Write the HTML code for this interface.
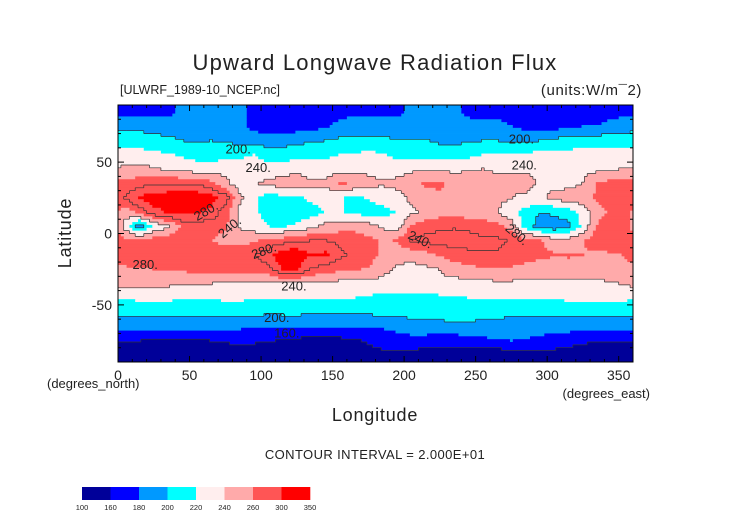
<!DOCTYPE html>
<html><head><meta charset="utf-8">
<style>
body{margin:0;background:#fff;width:752px;height:532px;overflow:hidden;font-family:"Liberation Sans",sans-serif;}
svg{display:block}
text{font-family:"Liberation Sans",sans-serif;fill:#222}
</style></head>
<body>
<svg id="chart" width="752" height="532" viewBox="0 0 752 532">
<text x="375" y="70" text-anchor="middle" font-size="22" letter-spacing="1.2">Upward Longwave Radiation Flux</text>
<text x="120" y="94" font-size="12.5">[ULWRF_1989-10_NCEP.nc]</text>
<text x="642" y="95" text-anchor="end" font-size="15" letter-spacing="0.6">(units:W/m¯2)</text>
<g id="field"></g>
<g id="clines"></g>
<g id="labels"></g>
<rect x="118" y="105" width="515" height="257" fill="none" stroke="#000" stroke-width="1"/>
<g id="axes"></g>
<text x="47" y="388" font-size="13">(degrees_north)</text>
<text x="650" y="398" text-anchor="end" font-size="13">(degrees_east)</text>
<text x="375" y="421" text-anchor="middle" font-size="18" letter-spacing="0.8">Longitude</text>
<text x="0" y="0" transform="translate(71,233) rotate(-90)" text-anchor="middle" font-size="18" letter-spacing="0.8">Latitude</text>
<text x="375" y="459" text-anchor="middle" font-size="13" letter-spacing="0.4">CONTOUR INTERVAL = 2.000E+01</text>
<g id="colorbar"></g>
</svg>
<script>
const levels=[100,160,180,200,220,240,260,300,350];
const levelColors=["#000099","#0000ff","#0099ff","#00ffff","#ffeeee","#ffaaaa","#ff5555","#ff0000"];
const contourLevels=[160,200,240,280];
const latTicks=[50,0,-50];
const lonTicks=[0,50,100,150,200,250,300,350];
// rows from 85N to 85S, columns lon 5..355 step 10 (W/m^2)
const r85N=[175,175,175,175,185,185,185,185,185,175,170,170,170,170,170,175,175,175,175,175,185,185,185,185,175,175,175,175,170,170,170,175,175,175,175,175];
const r75N=[195,195,190,190,192,195,195,190,185,175,170,168,170,172,178,185,190,190,190,190,185,190,192,190,188,185,185,180,175,172,172,178,180,180,185,190];
const r65N=[212,210,208,205,200,198,200,198,195,190,190,192,195,198,200,205,206,205,205,200,200,202,195,195,198,200,200,195,195,200,205,210,212,212,212,212];
const r55N=[226,228,225,222,218,212,210,212,215,220,212,210,212,215,216,220,222,225,222,214,212,215,215,212,215,220,222,225,225,226,226,226,228,228,228,228];
const r45N=[244,246,242,238,232,230,232,234,236,232,228,232,236,230,230,232,234,234,232,232,236,238,236,235,238,240,238,236,238,236,234,232,234,236,238,242];
const r35N=[266,272,276,276,278,276,266,244,232,236,246,248,250,244,244,262,258,248,242,246,252,264,262,256,252,248,244,246,246,238,234,234,240,260,268,266];
const r25N=[280,304,312,316,320,318,310,290,244,226,210,214,216,224,228,224,212,222,228,232,245,252,258,256,252,248,246,240,236,234,246,250,252,264,272,278];
const r15N=[248,266,292,302,306,302,294,270,236,224,212,202,206,212,220,222,216,210,214,220,235,246,250,252,248,244,240,226,212,200,204,212,228,250,266,266];
const r05N=[232,188,222,238,264,268,268,264,238,228,220,218,224,234,246,250,252,248,236,230,262,272,276,278,276,272,268,250,212,192,188,194,226,262,276,272];
const r05S=[266,268,270,272,272,268,260,252,252,258,264,270,276,280,280,275,272,266,256,262,282,286,288,288,286,284,284,278,268,262,248,248,258,272,278,274];
const r15S=[274,276,276,276,276,276,276,275,275,278,290,318,318,300,306,284,274,270,256,250,246,252,262,272,276,278,278,276,270,264,262,262,260,256,256,262];
const r25S=[256,258,260,262,264,266,266,266,268,270,274,302,302,278,270,264,262,258,246,236,234,236,240,248,254,258,258,256,252,250,250,252,250,250,252,254];
const r35S=[248,246,246,244,242,242,240,236,236,236,236,236,238,238,236,234,234,234,232,232,234,236,236,234,232,234,236,236,234,234,236,236,234,236,238,242];
const r45S=[222,224,224,224,222,222,222,224,224,222,222,222,222,224,222,220,220,218,214,214,212,214,216,218,220,222,222,220,220,220,222,224,224,224,224,224];
const r55S=[204,206,206,206,206,206,206,206,206,206,204,204,204,202,202,200,202,204,206,206,208,208,208,208,208,206,206,206,206,206,206,206,206,206,206,204];
const r65S=[186,186,188,188,190,190,188,186,184,182,182,184,186,186,184,182,180,180,182,186,190,192,194,196,196,194,192,190,190,188,188,188,188,188,186,186];
const r75S=[160,160,158,156,156,158,160,162,164,164,162,158,154,152,152,154,158,162,168,172,174,172,170,168,172,176,178,180,178,176,172,168,164,162,160,160];
const r85S=[145,143,140,140,145,147,150,150,150,145,143,140,140,140,143,145,150,153,155,155,153,150,150,150,145,145,147,150,153,155,153,150,147,145,145,145];
const gridRows=[r85N,r75N,r65N,r55N,r45N,r35N,r25N,r15N,r05N,r05S,r15S,r25S,r35S,r45S,r55S,r65S,r75S,r85S];
const contourLabels=["200.","240.","280.","240.","280.","280.","240.","200.","160.","200.","240.","280.","240."];
const labelLon=[84,98,63,80,19,103,123,111,118,282,284,277,210];
const labelLat=[56,43,13,2,-25,-15,-40,-62,-73,63,45,-3,-7];
const labelRot=[0,0,-30,-40,0,-20,0,0,0,0,0,40,25];

const NS="http://www.w3.org/2000/svg";
const X0=118,X1=633,Y0=105,Y1=362;
const xScale=lon=>X0+(lon/360)*(X1-X0);
const yScale=lat=>Y0+((90-lat)/180)*(Y1-Y0);
function colorOf(v){for(let k=levels.length-2;k>=0;k--){if(v>=levels[k])return levelColors[k];}return levelColors[0];}
function sample(lon,lat){
  const nc=gridRows[0].length,nr=gridRows.length;
  let gx=lon/10-0.5; let gy=(85-lat)/10;
  gy=Math.max(0,Math.min(nr-1,gy));
  const x0=Math.floor(gx),fx=gx-x0,y0=Math.floor(gy),fy=gy-y0;
  const y1=Math.min(nr-1,y0+1);
  const c=i=>((i%nc)+nc)%nc;
  const a=gridRows[y0][c(x0)],b=gridRows[y0][c(x0+1)],d=gridRows[y1][c(x0)],e=gridRows[y1][c(x0+1)];
  return (a*(1-fx)+b*fx)*(1-fy)+(d*(1-fx)+e*fx)*fy;
}
const field=document.getElementById('field');
const NX=180,NY=90,dl=360/NX,dp=180/NY;
const vals=[];
for(let j=0;j<NY;j++){
  const latA=90-j*dp,latB=latA-dp,latC=latA-dp/2;
  const row=[];
  for(let i=0;i<NX;i++)row.push(sample((i+0.5)*dl,latC));
  vals.push(row);
  let runStart=0,runCol=null;
  for(let i=0;i<=NX;i++){
    const col=i<NX?colorOf(row[i]):null;
    if(col!==runCol){
      if(runCol!==null){
        const r=document.createElementNS(NS,'rect');
        r.setAttribute('x',xScale(runStart*dl).toFixed(2));
        r.setAttribute('y',yScale(latA).toFixed(2));
        r.setAttribute('width',(xScale(i*dl)-xScale(runStart*dl)+0.4).toFixed(2));
        r.setAttribute('height',(yScale(latB)-yScale(latA)+0.4).toFixed(2));
        r.setAttribute('fill',runCol);
        
        
        field.appendChild(r);
      }
      runStart=i;runCol=col;
    }
  }
}
const cl=document.getElementById('clines');
let d="";
function cls(v){let c=0;contourLevels.forEach(L=>{if(v>=L)c++;});return c;}
for(let j=0;j<NY;j++){for(let i=0;i<NX;i++){
  const c=cls(vals[j][i]);
  if(i<NX-1&&cls(vals[j][i+1])!==c){const x=xScale((i+1)*dl);d+="M"+x.toFixed(1)+" "+yScale(90-j*dp).toFixed(1)+"V"+yScale(90-(j+1)*dp).toFixed(1);}
  if(j<NY-1&&cls(vals[j+1][i])!==c){const y=yScale(90-(j+1)*dp);d+="M"+xScale(i*dl).toFixed(1)+" "+y.toFixed(1)+"H"+xScale((i+1)*dl).toFixed(1);}
}}
const path=document.createElementNS(NS,'path');
path.setAttribute('d',d);path.setAttribute('stroke','#333');path.setAttribute('stroke-width','0.7');path.setAttribute('fill','none');


cl.appendChild(path);

const lab=document.getElementById('labels');
contourLabels.forEach((t,k)=>{
  const el=document.createElementNS(NS,'text');
  const x=xScale(labelLon[k]),y=yScale(labelLat[k]);
  el.setAttribute('x',x);el.setAttribute('y',y);
  el.setAttribute('font-size','13');el.setAttribute('text-anchor','middle');
  el.setAttribute('transform','rotate('+labelRot[k]+' '+x+' '+y+')');
  
  
  el.textContent=t;lab.appendChild(el);
});
const ax=document.getElementById('axes');
function line(x1,y1,x2,y2,name){const l=document.createElementNS(NS,'line');l.setAttribute('x1',x1);l.setAttribute('y1',y1);l.setAttribute('x2',x2);l.setAttribute('y2',y2);l.setAttribute('stroke','#000');l.setAttribute('stroke-width','1');


ax.appendChild(l);}
function txt(x,y,s,anchor,size,name,parent){const t=document.createElementNS(NS,'text');t.setAttribute('x',x);t.setAttribute('y',y);t.setAttribute('text-anchor',anchor);t.setAttribute('font-size',size);t.textContent=s;


(parent||ax).appendChild(t);}
for(let lon=0;lon<=360;lon+=10){const x=xScale(lon),len=lon%50===0?6:3;line(x,Y1,x,Y1-len,'x-tick');line(x,Y0,x,Y0+len,'x-tick');}
for(let lat=-90;lat<=90;lat+=10){const y=yScale(lat),len=lat%50===0?6:3;line(X0,y,X0+len,y,'y-tick');line(X1,y,X1-len,y,'y-tick');}
lonTicks.forEach(v=>txt(xScale(v),380,String(v),'middle',14,'x-tick-label'));
latTicks.forEach(v=>txt(112,yScale(v)+5,String(v),'end',14,'y-tick-label'));
const cb=document.getElementById('colorbar');
const CB0=82,CB1=310,nb=levelColors.length,bw=(CB1-CB0)/nb;
levelColors.forEach((c,k)=>{const r=document.createElementNS(NS,'rect');r.setAttribute('x',CB0+k*bw);r.setAttribute('y',487);r.setAttribute('width',bw+0.3);r.setAttribute('height',13);r.setAttribute('fill',c);


cb.appendChild(r);});
levels.forEach((v,k)=>txt(CB0+k*bw,510,String(v),'middle',7.5,'colorbar-label',cb));
</script>
</body></html>
